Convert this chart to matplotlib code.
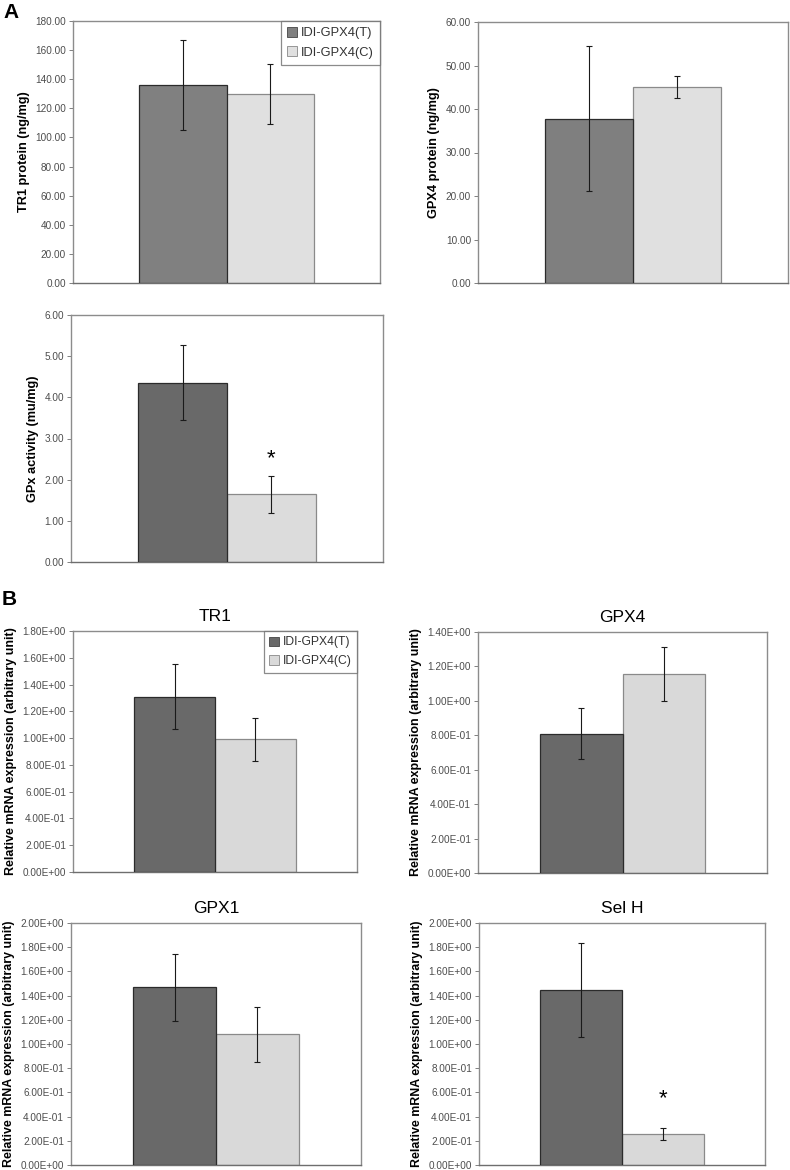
import matplotlib
matplotlib.use("Agg")
import matplotlib.pyplot as plt
from matplotlib.ticker import FuncFormatter, MultipleLocator
from matplotlib.patches import Patch

plt.rcParams['font.family'] = ['Liberation Sans', 'DejaVu Sans']

groups = ['IDI-GPX4(T)', 'IDI-GPX4(C)']

# panel A: protein / activity
tr1_protein = [136.0, 130.0]
tr1_protein_err = [31.0, 20.7]
gpx4_protein = [37.8, 45.1]
gpx4_protein_err = [16.7, 2.6]
gpx_activity = [4.36, 1.64]
gpx_activity_err = [0.90, 0.45]

# panel B: relative mRNA expression
tr1_mrna = [1.31, 0.99]
tr1_mrna_err = [0.24, 0.158]
gpx4_mrna = [0.81, 1.158]
gpx4_mrna_err = [0.15, 0.157]
gpx1_mrna = [1.47, 1.08]
gpx1_mrna_err = [0.277, 0.225]
selh_mrna = [1.448, 0.254]
selh_mrna_err = [0.39, 0.048]

W, H = 790, 1170
fig = plt.figure(figsize=(W / 100, H / 100), dpi=100)


def make_ax(l, r, t, b):
    return fig.add_axes([l / W, 1 - b / H, (r - l) / W, (b - t) / H])


def bar_panel(ax, vals, errs, colors, ymax, step, fmt, ylabel, title=None,
              star=None, legend=False, leg_fs=9, lab_fs=9.2):
    w = 0.285
    xs = [0.5 - w / 2, 0.5 + w / 2]
    edges = ['#2b2b2b', '#8a8a8a']
    zs = [3, 2]
    for x, v, e, c, ec, z in zip(xs, vals, errs, colors, edges, zs):
        ax.bar(x, v, width=w, color=c, edgecolor=ec, linewidth=0.9, zorder=z)
        ax.errorbar(x, v, yerr=e, fmt='none', ecolor='#1a1a1a',
                    elinewidth=0.8, capsize=2.2, capthick=0.8, zorder=5)
    ax.set_xlim(0, 1)
    ax.set_ylim(0, ymax)
    ax.yaxis.set_major_locator(MultipleLocator(step))
    ax.yaxis.set_major_formatter(FuncFormatter(fmt))
    ax.set_xticks([])
    ax.tick_params(axis='y', length=3, width=0.7, color='#808080',
                   labelsize=7.2, labelcolor='#4d4d4d', pad=2)
    for s in ax.spines.values():
        s.set_color('#8c8c8c')
        s.set_linewidth(1.0)
    ax.spines['bottom'].set_color('#6e6e6e')
    ax.set_ylabel(ylabel, fontsize=lab_fs, fontweight='bold', labelpad=4)
    if title:
        ax.set_title(title, fontsize=12.5, pad=7)
    if star is not None:
        ax.text(xs[1], star, '*', ha='center', va='center', fontsize=16)
    if legend:
        handles = [Patch(facecolor=colors[0], edgecolor='#444444', linewidth=0.6),
                   Patch(facecolor=colors[1], edgecolor='#888888', linewidth=0.6)]
        lg = ax.legend(handles, groups, loc='upper right', fontsize=leg_fs,
                       frameon=True, fancybox=False, borderaxespad=0,
                       handlelength=0.8, handleheight=0.8, handletextpad=0.3,
                       borderpad=0.45, labelspacing=0.55, edgecolor='#6e6e6e',
                       labelcolor='#333333')
        lg.get_frame().set_linewidth(0.9)


fmt_a = lambda v, p: f'{v:.2f}'
fmt_b = lambda v, p: f'{v:.2E}'

light_a = '#e0e0e0'
light_b = '#d9d9d9'
mrna_label = 'Relative mRNA expression (arbitrary unit)'

ax = make_ax(73, 380, 21, 283)
bar_panel(ax, tr1_protein, tr1_protein_err, ['#808080', light_a], 180, 20,
          fmt_a, 'TR1 protein (ng/mg)', legend=True, leg_fs=9.3)

ax = make_ax(478, 788, 22, 283)
bar_panel(ax, gpx4_protein, gpx4_protein_err, ['#7f7f7f', light_a], 60, 10,
          fmt_a, 'GPX4 protein (ng/mg)')

ax = make_ax(71, 383, 315, 562)
bar_panel(ax, gpx_activity, gpx_activity_err, ['#696969', '#dcdcdc'], 6, 1,
          fmt_a, 'GPx activity (mu/mg)', star=2.5)

ax = make_ax(73, 357, 631, 872)
bar_panel(ax, tr1_mrna, tr1_mrna_err, ['#696969', light_b], 1.8, 0.2,
          fmt_b, mrna_label, title='TR1', legend=True, leg_fs=8.7, lab_fs=9.0)

ax = make_ax(478, 767, 632, 873)
bar_panel(ax, gpx4_mrna, gpx4_mrna_err, ['#696969', light_b], 1.4, 0.2,
          fmt_b, mrna_label, title='GPX4', lab_fs=9.0)

ax = make_ax(71, 361, 923, 1165)
bar_panel(ax, gpx1_mrna, gpx1_mrna_err, ['#696969', light_b], 2.0, 0.2,
          fmt_b, mrna_label, title='GPX1', lab_fs=8.9)

ax = make_ax(479, 765, 923, 1165)
bar_panel(ax, selh_mrna, selh_mrna_err, ['#696969', light_b], 2.0, 0.2,
          fmt_b, mrna_label, title='Sel H', star=0.55, lab_fs=8.9)

fig.text(3 / W, 1 - 3 / H, 'A', fontsize=15, fontweight='bold', va='top', ha='left')
fig.text(2 / W, 1 - 590 / H, 'B', fontsize=15, fontweight='bold', va='top', ha='left')

fig.savefig('out.png', dpi=100, facecolor='white')
